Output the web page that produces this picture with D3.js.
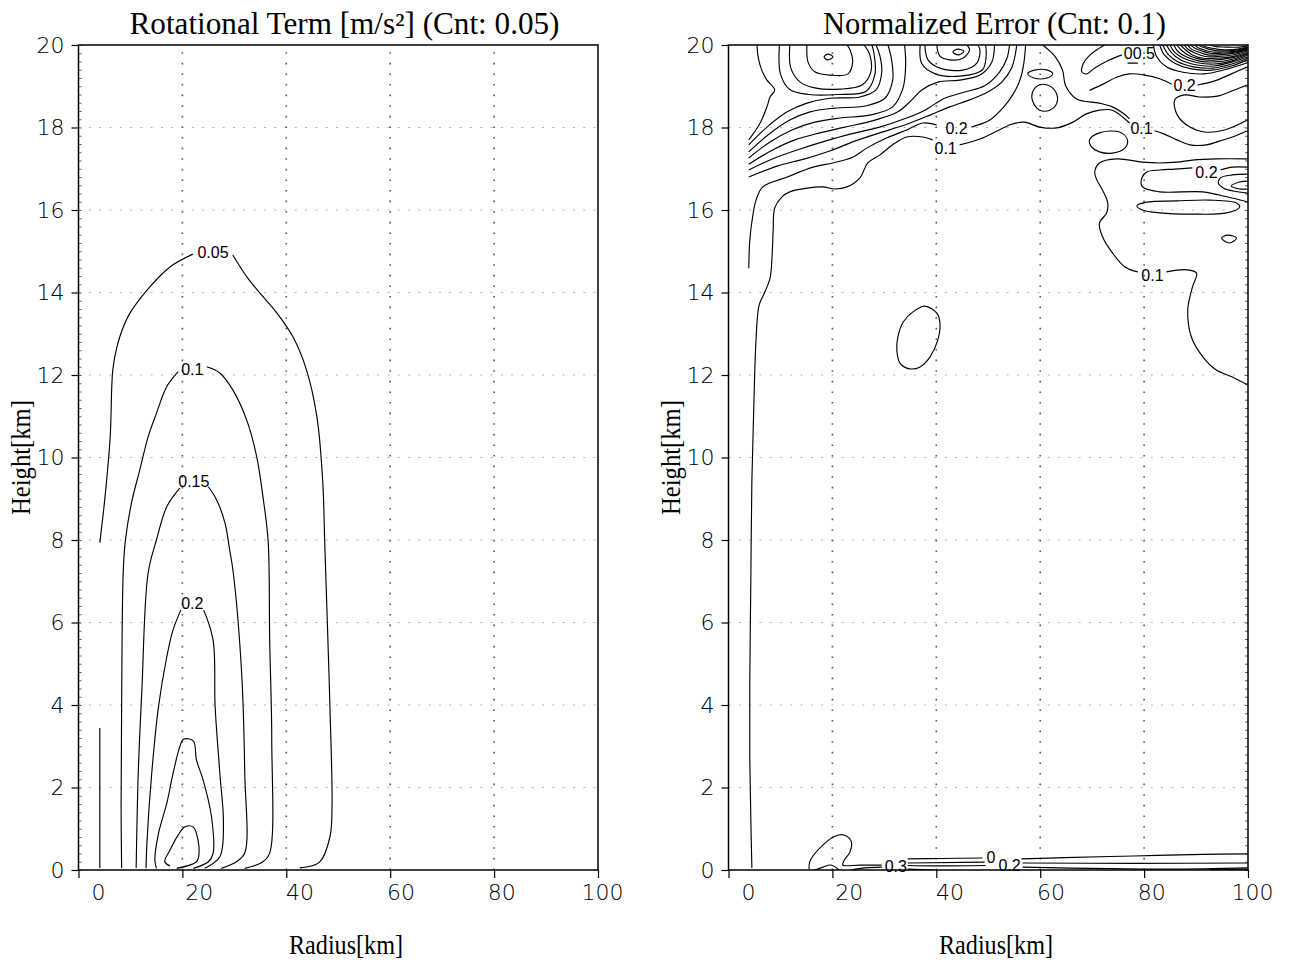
<!DOCTYPE html>
<html>
<head>
<meta charset="utf-8" />
<title>rotational term / normalized error</title>
<script src="https://d3js.org/d3.v7.min.js"></script>
<style>
  body { margin: 0; background: #fff; }
  .num { font-family: "DejaVu Sans ExtraLight", "DejaVu Sans", sans-serif; font-weight: 200; }
  .clab { font-family: "Liberation Sans", Arial, sans-serif; }
  .ttl { font-family: "Liberation Serif", "DejaVu Serif", serif; }
</style>
</head>
<body>
<svg id="chart"></svg>
<script>
var width = 1289, height = 964;

// axis ticks
var radiusTicks = [0, 20, 40, 60, 80, 100];
var heightTicks = [0, 2, 4, 6, 8, 10, 12, 14, 16, 18, 20];

// ---- left panel: rotational term, [radius km, height km] along each contour ----
var rot005a = [[4.1,7.93],[5.1,9.04],[6.1,10.5],[6.6,12.12],[7.4,12.68],[8.4,13.09],[9.9,13.5],[13.2,14.06],[17.6,14.62],[22.0,14.93]];
var rot005b = [[29.7,14.91],[32.4,14.38],[34.9,13.99],[38.2,13.5],[41.3,12.92],[43.9,12.12],[45.9,10.98],[47.0,9.45],[47.4,7.93],[47.8,6.38],[48.4,3.95],[48.8,1.53],[48.4,0.8],[46.4,0.19],[42.6,0.05]];
var rot005c = [[4.1,3.44],[4.1,0.05]];
var rot010a = [[8.3,0.04],[8.2,1.53],[8.3,3.96],[8.6,7.2],[9.0,7.96],[10.2,8.9],[11.8,9.7],[13.4,10.5],[15.0,11.07],[17.0,11.72],[19.2,12.08]];
var rot010b = [[24.7,12.2],[27.2,12.05],[29.7,11.64],[32.4,10.9],[34.3,10.02],[35.5,9.05],[36.5,7.98],[36.8,5.58],[37.2,3.15],[36.8,0.41],[35.5,0.2],[32.0,0.04]];
var rot015a = [[11.1,0.05],[11.5,2.35],[12.2,4.36],[13.4,7.2],[15.0,8.0],[17.0,8.81],[19.5,9.26]];
var rot015b = [[25.0,9.29],[26.6,8.97],[28.2,8.41],[29.1,7.76],[29.8,7.2],[31.4,4.78],[32.0,2.35],[32.0,0.41],[30.4,0.2],[27.5,0.04]];
var rot020a = [[13.0,0.04],[13.2,0.73],[14.1,2.35],[15.4,3.96],[17.0,5.17],[18.2,5.82],[19.7,6.3]];
var rot020b = [[24.1,6.3],[25.9,5.58],[26.3,3.96],[27.2,2.35],[27.9,1.14],[27.2,0.32],[24.3,0.04]];
var rot025 = [[15.0,0.04],[14.7,0.24],[15.4,0.89],[17.0,1.62],[18.2,2.34],[19.5,2.99],[20.2,3.17],[22.1,3.13],[22.7,2.67],[24.0,2.18],[25.6,1.29],[25.9,0.4],[25.0,0.2],[22.1,0.04]];
var rot030 = [[17.6,0.1],[16.6,0.2],[17.6,0.48],[19.2,0.85],[20.5,1.05],[22.1,1.04],[23.0,0.73],[23.2,0.4],[22.7,0.2],[18.9,0.04]];
var rotLabels = [["0.05",25.9,14.97],["0.1",21.9,12.15],["0.15",22.2,9.43],["0.2",21.9,6.47]];

// ---- right panel: normalized error ----
var errA = [[4.5,0.05],[4.3,1.21],[4.1,2.67],[4.1,4.61],[4.3,7.03],[4.5,9.45],[4.9,11.39],[5.3,12.85],[5.9,13.7],[7.0,14.01],[8.0,14.35],[8.4,14.91],[8.6,15.52],[8.9,16.05],[10.3,16.32],[11.8,16.44],[15.1,16.53],[18.2,16.56],[20.5,16.51],[22.8,16.56],[25.3,16.78],[26.8,17.14],[29.1,17.33],[31.6,17.58],[34.3,17.77],[37.4,17.77],[39.3,17.7]];
var errB = [[44.5,17.58],[48.4,17.72],[51.8,17.92],[54.5,18.08],[57.0,18.13],[59.9,18.01],[63.2,17.99],[66.3,18.13],[68.9,18.33],[71.4,18.42],[73.9,18.42],[75.9,18.25],[77.2,18.11]];
var errC = [[82.0,17.92],[83.9,17.84],[86.3,17.7],[88.8,17.58],[92.0,17.58],[94.5,17.67],[97.0,17.77],[99.9,17.92]];
var errD = [[3.9,14.59],[4.1,15.27],[4.7,15.88],[5.3,16.24],[6.6,16.56],[11.3,16.8],[16.3,17.04],[20.1,17.14],[23.9,17.28],[26.6,17.5],[30.5,17.75],[34.3,17.94],[37.4,18.11],[40.1,18.06]];
var errE = [[46.8,18.01],[50.3,18.18],[52.8,18.47],[54.7,18.79],[56.1,19.15],[56.8,19.52],[57.2,20.0]];
var errR = [[5.5,20.0],[5.7,19.71],[6.4,19.39],[7.4,19.15],[8.9,18.91],[8.0,18.74],[7.4,18.5],[6.1,18.11],[3.9,17.7]];
var errB1 = [[3.9,17.58],[7.4,18.01],[11.3,18.38],[15.1,18.59],[19.5,18.71],[25.3,18.74],[28.4,18.91],[29.5,19.35],[29.1,19.76],[28.4,20.0]];
var errB2 = [[3.9,17.41],[7.6,17.82],[11.8,18.18],[15.7,18.38],[20.5,18.47],[26.3,18.52],[30.1,18.71],[31.6,19.15],[31.4,19.64],[30.7,20.0]];
var errB3 = [[3.9,17.26],[8.0,17.65],[12.2,17.94],[16.6,18.13],[21.4,18.23],[27.2,18.3],[31.6,18.5],[33.6,18.96],[34.1,19.52],[33.9,20.0]];
var errB4 = [[3.9,17.11],[8.4,17.45],[12.8,17.7],[17.6,17.87],[22.4,18.01],[28.2,18.18],[32.6,18.38],[35.3,18.67],[37.2,18.91],[40.3,19.1],[44.5,19.15],[48.4,19.27],[50.7,19.59],[51.2,20.0]];
var errB5 = [[3.9,16.97],[8.9,17.26],[13.8,17.48],[18.6,17.67],[23.4,17.84],[29.1,18.01],[33.9,18.21],[37.8,18.42],[41.6,18.71],[45.5,18.86],[49.3,19.01],[52.2,19.35],[53.6,19.68],[54.1,20.0]];
var errB6 = [[3.9,16.8],[9.5,17.07],[14.7,17.24],[19.5,17.43],[24.3,17.67],[29.1,17.87],[33.9,18.06],[38.8,18.3],[42.6,18.5],[46.4,18.67],[49.9,18.86],[52.6,19.1],[54.5,19.44],[55.5,20.0]];
var errH1 = [[15.1,20.0],[15.3,19.59],[16.6,19.35],[19.5,19.27],[23.0,19.3],[23.9,19.59],[23.4,19.88],[22.8,20.0]];
var errH2 = [[11.8,20.0],[12.0,19.44],[13.8,19.1],[16.6,18.96],[21.4,18.93],[25.7,19.03],[27.4,19.35],[27.2,19.76],[26.1,20.0]];
var errH3 = [[9.8,20.0],[10.0,19.3],[11.8,18.92],[15.5,18.8],[21.0,18.8],[26.5,18.88],[28.2,19.3],[28.0,19.8],[27.6,20.0]];
var errK0 = [[36.9,20.0],[37.2,19.55],[39.8,19.3],[45.0,19.25],[48.9,19.4],[49.6,19.75],[49.5,20.0]];
var errK1 = [[37.8,20.0],[38.4,19.64],[40.7,19.44],[45.1,19.39],[47.8,19.56],[48.4,19.88],[48.0,20.0]];
var errK2 = [[40.1,20.0],[40.7,19.73],[42.6,19.64],[45.1,19.68],[46.4,19.88],[45.9,20.0]];
var errN = [[72.4,20.0],[71.1,19.9],[69.5,19.75],[68.3,19.55],[68.0,19.35],[69.0,19.3],[70.5,19.44],[73.4,19.64],[75.7,19.76]];
var errO = [[60.5,20.0],[62.8,19.73],[64.3,19.39],[64.9,19.01],[67.0,18.69],[71.4,18.59],[73.9,18.5],[75.9,18.35],[77.2,18.21]];
var errG = [[69.5,18.9],[72.4,19.07],[74.7,19.22],[77.2,19.3],[80.1,19.27],[83.0,19.18],[85.3,19.05]];
var errG2 = [[90.3,19.03],[93.6,19.13],[96.8,19.3],[99.9,19.47]];
var errDash = [[76.8,19.56],[78.8,19.56]];
var errD0 = [[81.8,20.0],[82.4,19.72],[84.2,19.48],[87.5,19.34],[91.5,19.3],[95.5,19.4],[99.9,19.57]];
var errD1 = [[83.0,20.0],[83.9,19.76],[85.9,19.56],[89.1,19.42],[93.0,19.39],[96.8,19.49],[99.9,19.64]];
var errD1b = [[83.6,20.0],[84.6,19.78],[86.4,19.6],[89.5,19.47],[93.2,19.44],[96.9,19.54],[99.9,19.68]];
var errD2 = [[84.3,20.0],[85.3,19.81],[87.0,19.64],[89.9,19.52],[93.4,19.49],[97.0,19.59],[99.9,19.71]];
var errD2b = [[85.0,20.0],[85.9,19.82],[87.6,19.68],[90.3,19.57],[93.6,19.54],[97.1,19.62],[99.9,19.75]];
var errD3 = [[85.7,20.0],[86.6,19.83],[88.2,19.71],[90.7,19.61],[93.8,19.59],[97.2,19.66],[99.9,19.78]];
var errD3b = [[86.3,20.0],[87.3,19.86],[88.7,19.74],[91.0,19.65],[94.0,19.64],[97.3,19.7],[99.9,19.8]];
var errD4 = [[87.0,20.0],[88.0,19.88],[89.3,19.76],[91.4,19.68],[94.1,19.68],[97.4,19.73],[99.9,19.83]];
var errD4b = [[87.7,20.0],[88.5,19.89],[89.9,19.8],[91.8,19.72],[94.3,19.72],[97.5,19.77],[99.9,19.86]];
var errD5 = [[88.4,20.0],[89.1,19.9],[90.5,19.83],[92.2,19.76],[94.5,19.76],[97.6,19.81],[99.9,19.88]];
var errD5b = [[89.0,20.0],[89.8,19.92],[91.0,19.86],[92.7,19.8],[94.8,19.8],[97.7,19.83],[99.9,19.9]];
var errD6 = [[89.7,20.0],[90.5,19.93],[91.6,19.88],[93.2,19.83],[95.1,19.83],[97.8,19.85],[99.9,19.93]];
var errD6b = [[90.4,20.0],[91.2,19.95],[92.4,19.9],[94.0,19.86],[96.0,19.86],[98.0,19.88],[99.9,19.94]];
var errD7 = [[91.1,20.0],[92.0,19.95],[93.2,19.92],[94.9,19.89],[98.0,19.9],[99.9,19.95]];
var errD8 = [[92.6,20.0],[93.8,19.96],[95.7,19.95],[98.4,19.95],[99.9,19.98]];
var errU = [[99.9,19.03],[97.4,18.91],[94.1,18.76],[90.7,18.74],[87.8,18.79],[85.9,18.67],[86.4,18.3],[88.8,18.01],[91.6,17.89],[95.5,17.94],[99.9,18.18]];
var errQ = [[99.9,17.24],[93.9,17.24],[89.3,17.21],[86.3,17.16],[83.0,17.14],[79.7,17.16],[74.7,17.24],[71.4,17.14],[70.5,16.92],[70.9,16.73],[72.0,16.48],[73.0,16.17],[72.8,15.93],[71.4,15.68],[72.0,15.35],[73.9,14.96],[76.3,14.62],[78.8,14.5]];
var errQ2 = [[84.3,14.5],[88.2,14.55],[90.1,14.47],[89.3,14.13],[88.4,13.58],[89.1,12.92],[91.3,12.44],[93.9,12.12],[97.0,11.95],[99.9,11.76]];
var errP1 = [[99.9,17.04],[97.0,17.04],[94.7,16.97]];
var errP2 = [[89.3,17.02],[85.9,16.99],[83.0,16.97],[80.5,16.92],[79.5,16.75],[79.7,16.56],[83.0,16.44],[91.3,16.44],[95.9,16.32],[99.9,16.2]];
var errS1 = [[99.9,16.87],[97.0,16.85],[94.7,16.78],[94.3,16.65],[95.3,16.53],[97.2,16.46],[99.9,16.41]];
var errS2 = [[99.9,16.7],[98.4,16.68],[96.8,16.58],[98.4,16.51],[99.9,16.51]];
var errX = [[15.5,0.02],[15.7,0.22],[18.2,0.61],[20.5,0.82],[22.2,0.85],[23.6,0.7],[23.4,0.44],[22.2,0.22],[22.0,0.12],[25.3,0.12],[29.5,0.12]];
var errY = [[16.6,0.0],[18.2,0.07],[19.7,0.12],[21.3,0.0]];
var errZ = [[23.6,0.0],[26.3,0.05],[29.5,0.07]];
var errL1a = [[34.5,0.27],[40.9,0.28],[48.9,0.29]];
var errL1b = [[56.4,0.27],[64.7,0.3],[78.0,0.34],[91.3,0.38],[99.9,0.39]];
var errL2a = [[34.5,0.17],[49.3,0.19]];
var errL2b = [[56.6,0.17],[78.0,0.16],[99.9,0.17]];
var errL3a = [[34.5,0.11],[39.5,0.1],[49.5,0.11]];
var errL3b = [[56.6,0.07],[84.5,0.02],[99.9,0.05]];
var errL4a = [[34.5,0.02],[39.5,0.0]];
var errL4b = [[92.6,0.01],[99.9,0.02]];
// closed contours
var errH0 = [[18.4,19.71],[19.1,19.78],[20.1,19.71],[19.1,19.64]];
var errK3 = [[43.2,19.83],[44.1,19.9],[45.3,19.85],[44.3,19.76]];
var errLa = [[58.4,18.79],[59.5,19.01],[61.4,19.03],[63.0,18.86],[63.2,18.59],[61.8,18.42],[59.9,18.42],[58.8,18.57]];
var errLb = [[57.6,19.3],[58.9,19.39],[61.4,19.39],[62.4,19.3],[61.3,19.2],[58.8,19.2]];
var errV = [[69.5,17.7],[71.4,17.87],[75.3,17.89],[76.8,17.7],[76.3,17.5],[73.9,17.38],[71.4,17.41],[69.9,17.53]];
var errT = [[78.6,16.1],[80.5,16.19],[86.3,16.22],[92.6,16.24],[97.8,16.17],[98.4,16.07],[95.9,15.93],[89.3,15.9],[83.0,15.93],[79.7,16.0]];
var errDiamond = [[94.9,15.32],[96.1,15.39],[97.8,15.32],[96.4,15.2]];
var errW = [[37.8,13.67],[40.1,13.5],[40.7,13.26],[40.3,12.85],[38.8,12.44],[36.8,12.19],[34.9,12.15],[33.0,12.29],[32.4,12.61],[32.6,12.92],[33.6,13.28],[35.5,13.53]];
var errLabels = [["0.1",41.8,17.5],["0.2",43.9,17.99],["0.1",79.5,17.99],["00.5",79.1,19.81],["0.2",87.8,19.03],["0.2",92.0,16.92],["0.1",81.6,14.42],["0.3",32.2,0.1],["0",50.5,0.32],["0.2",54.1,0.11]];

var rotLines = [rot005a, rot005b, rot005c, rot010a, rot010b, rot015a, rot015b, rot020a, rot020b, rot025, rot030];
var errLines = [errA, errB, errC, errD, errE, errR, errB1, errB2, errB3, errB4, errB5, errB6, errH1, errH2, errH3,
  errK0, errK1, errK2, errN, errO, errG, errG2, errDash,
  errD0, errD1, errD1b, errD2, errD2b, errD3, errD3b, errD4, errD4b, errD5, errD5b, errD6, errD6b, errD7, errD8,
  errU, errQ, errQ2, errP1, errP2, errS1, errS2, errX, errY, errZ,
  errL1a, errL1b, errL2a, errL2b, errL3a, errL3b, errL4a, errL4b];
var errLoops = [errH0, errK3, errLa, errLb, errV, errT, errDiamond, errW];

var svg = d3.select("#chart").attr("width", width).attr("height", height);

var panels = [
  { id: "rot", x0: 78.5, title: "Rotational Term [m/s\u00b2] (Cnt: 0.05)", titleWidth: 430,
    lines: rotLines, loops: [], labels: rotLabels, minorSide: "left" },
  { id: "err", x0: 728.5, title: "Normalized Error (Cnt: 0.1)", titleWidth: 343,
    lines: errLines, loops: errLoops, labels: errLabels, minorSide: "right" }
];

var plotW = 519.5, plotTop = 45, plotBottom = 870;

panels.forEach(function(p) {
  var x = d3.scaleLinear().domain([0, 100]).range([p.x0, p.x0 + plotW]);
  var y = d3.scaleLinear().domain([0, 20]).range([plotBottom, plotTop]);
  // radius labels sit a little right of their ticks in the original
  var xl = d3.scaleLinear().domain([0, 100]).range([p.x0 + 19.5, p.x0 + 523.5]);

  var g = svg.append("g");

  g.append("clipPath").attr("id", "clip-" + p.id)
    .append("rect")
    .attr("x", x(0)).attr("y", y(20))
    .attr("width", x(100) - x(0)).attr("height", y(0) - y(20));

  // dotted grid
  g.selectAll(".hgrid").data(heightTicks.slice(1, -1)).enter().append("line")
    .attr("x1", x(0)).attr("x2", x(100))
    .attr("y1", function(d) { return y(d); }).attr("y2", function(d) { return y(d); })
    .attr("stroke", "#b4b4b4").attr("stroke-width", 1.2)
    .attr("stroke-dasharray", "2,8.3");
  g.selectAll(".vgrid").data(radiusTicks.slice(1, -1)).enter().append("line")
    .attr("x1", function(d) { return x(d); }).attr("x2", function(d) { return x(d); })
    .attr("y1", y(0)).attr("y2", y(20))
    .attr("stroke", "#555").attr("stroke-width", 1.6)
    .attr("stroke-dasharray", "1.6,9");

  var line = d3.line()
    .x(function(d) { return x(d[0]); })
    .y(function(d) { return y(d[1]); })
    .curve(d3.curveCatmullRom.alpha(0.5));
  var loop = d3.line()
    .x(function(d) { return x(d[0]); })
    .y(function(d) { return y(d[1]); })
    .curve(d3.curveCatmullRomClosed.alpha(0.5));

  var cg = g.append("g").attr("clip-path", "url(#clip-" + p.id + ")");
  cg.selectAll(".cline").data(p.lines).enter().append("path")
    .attr("d", line)
    .attr("fill", "none").attr("stroke", "#000").attr("stroke-width", 1.15);
  cg.selectAll(".cloop").data(p.loops).enter().append("path")
    .attr("d", loop)
    .attr("fill", "none").attr("stroke", "#000").attr("stroke-width", 1.15);

  // contour labels
  g.selectAll(".clabel").data(p.labels).enter().append("text")
    .attr("class", "clab")
    .attr("x", function(d) { return x(d[1]); })
    .attr("y", function(d) { return y(d[2]); })
    .attr("dy", "0.36em")
    .attr("text-anchor", "middle")
    .attr("fill", "#000")
    .style("font-size", "16px")
    .text(function(d) { return d[0]; });

  // axes
  var xAxis = d3.axisBottom(x).tickValues(radiusTicks).tickSize(8).tickFormat(d3.format("d"));
  var gx = g.append("g").attr("transform", "translate(0," + plotBottom + ")").call(xAxis);
  gx.select(".domain").remove();
  gx.selectAll(".tick line").attr("stroke", "#000").attr("stroke-width", 1.2);
  gx.selectAll(".tick text")
    .attr("class", "num")
    .attr("x", function(d) { return xl(d) - x(d); })
    .attr("y", 14)
    .attr("fill", "#000")
    .style("font-size", "22px");

  var yAxis = d3.axisLeft(y).tickValues(heightTicks).tickSize(7).tickPadding(7).tickFormat(d3.format("d"));
  var gy = g.append("g").attr("transform", "translate(" + x(0) + ",0)").call(yAxis);
  gy.select(".domain").remove();
  gy.selectAll(".tick line").attr("stroke", "#000").attr("stroke-width", 1.2);
  gy.selectAll(".tick text")
    .attr("class", "num")
    .attr("fill", "#000")
    .style("font-size", "22px");

  // small ticks along one side
  var minor = p.minorSide === "left"
    ? d3.axisRight(y).tickValues(d3.range(0, 20.01, 0.2)).tickSize(3).tickFormat("")
    : d3.axisLeft(y).tickValues(d3.range(0, 20.01, 0.2)).tickSize(3).tickFormat("");
  var gm = g.append("g")
    .attr("transform", "translate(" + (p.minorSide === "left" ? x(0) : x(100)) + ",0)")
    .call(minor);
  gm.select(".domain").remove();
  gm.selectAll(".tick line").attr("stroke", "#333").attr("stroke-width", 0.8);

  // frame
  g.append("rect")
    .attr("x", x(0)).attr("y", y(20))
    .attr("width", x(100) - x(0)).attr("height", y(0) - y(20))
    .attr("fill", "none").attr("stroke", "#000").attr("stroke-width", 1.5);

  // titles
  g.append("text").attr("class", "ttl")
    .attr("x", p.x0 + 266).attr("y", 34)
    .attr("text-anchor", "middle")
    .attr("textLength", p.titleWidth).attr("lengthAdjust", "spacingAndGlyphs")
    .style("font-size", "31px")
    .text(p.title);

  g.append("text").attr("class", "ttl")
    .attr("x", p.x0 + 267.5).attr("y", 954)
    .attr("text-anchor", "middle")
    .attr("textLength", 114).attr("lengthAdjust", "spacingAndGlyphs")
    .style("font-size", "28px")
    .text("Radius[km]");

  g.append("text").attr("class", "ttl")
    .attr("transform", "translate(" + (p.x0 - 49) + "," + ((plotTop + plotBottom) / 2) + ") rotate(-90)")
    .attr("text-anchor", "middle")
    .attr("textLength", 115).attr("lengthAdjust", "spacingAndGlyphs")
    .style("font-size", "27px")
    .text("Height[km]");
});
</script>
</body>
</html>
